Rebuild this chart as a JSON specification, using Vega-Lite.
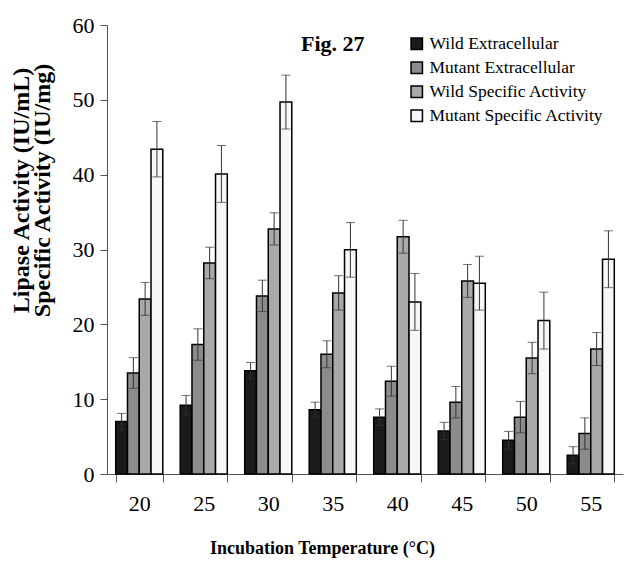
{
  "$schema": "https://vega.github.io/schema/vega-lite/v6.json",
  "autosize": "none",
  "width": 516,
  "height": 449,
  "padding": {"left": 107, "top": 25, "right": 1, "bottom": 103},
  "background": "white",
  "config": {
    "view": {"stroke": null},
    "font": "Liberation Serif",
    "axis": {"grid": false, "domainColor": "#555", "tickColor": "#555", "labelColor": "black", "titleColor": "black", "labelFont": "Liberation Serif", "titleFont": "Liberation Serif"}
  },
  "data": {
    "values": [
      {"temp": 20, "series": "Wild Extracellular", "value": 7.0, "lo": 5.9, "hi": 8.1},
      {"temp": 20, "series": "Mutant Extracellular", "value": 13.5, "lo": 11.45, "hi": 15.55},
      {"temp": 20, "series": "Wild Specific Activity", "value": 23.4, "lo": 21.2, "hi": 25.6},
      {"temp": 20, "series": "Mutant Specific Activity", "value": 43.4, "lo": 39.7, "hi": 47.1},
      {"temp": 25, "series": "Wild Extracellular", "value": 9.2, "lo": 7.9, "hi": 10.5},
      {"temp": 25, "series": "Mutant Extracellular", "value": 17.3, "lo": 15.2, "hi": 19.4},
      {"temp": 25, "series": "Wild Specific Activity", "value": 28.2, "lo": 26.1, "hi": 30.3},
      {"temp": 25, "series": "Mutant Specific Activity", "value": 40.1, "lo": 36.3, "hi": 43.9},
      {"temp": 30, "series": "Wild Extracellular", "value": 13.8, "lo": 12.7, "hi": 14.9},
      {"temp": 30, "series": "Mutant Extracellular", "value": 23.8, "lo": 21.7, "hi": 25.9},
      {"temp": 30, "series": "Wild Specific Activity", "value": 32.75, "lo": 30.6, "hi": 34.9},
      {"temp": 30, "series": "Mutant Specific Activity", "value": 49.7, "lo": 46.1, "hi": 53.3},
      {"temp": 35, "series": "Wild Extracellular", "value": 8.6, "lo": 7.6, "hi": 9.6},
      {"temp": 35, "series": "Mutant Extracellular", "value": 16.0, "lo": 14.2, "hi": 17.8},
      {"temp": 35, "series": "Wild Specific Activity", "value": 24.2, "lo": 21.9, "hi": 26.5},
      {"temp": 35, "series": "Mutant Specific Activity", "value": 29.95, "lo": 26.3, "hi": 33.6},
      {"temp": 40, "series": "Wild Extracellular", "value": 7.6, "lo": 6.5, "hi": 8.7},
      {"temp": 40, "series": "Mutant Extracellular", "value": 12.4, "lo": 10.4, "hi": 14.4},
      {"temp": 40, "series": "Wild Specific Activity", "value": 31.7, "lo": 29.5, "hi": 33.9},
      {"temp": 40, "series": "Mutant Specific Activity", "value": 23.0, "lo": 19.2, "hi": 26.8},
      {"temp": 45, "series": "Wild Extracellular", "value": 5.75, "lo": 4.6, "hi": 6.9},
      {"temp": 45, "series": "Mutant Extracellular", "value": 9.6, "lo": 7.5, "hi": 11.7},
      {"temp": 45, "series": "Wild Specific Activity", "value": 25.8, "lo": 23.6, "hi": 28.0},
      {"temp": 45, "series": "Mutant Specific Activity", "value": 25.5, "lo": 21.9, "hi": 29.1},
      {"temp": 50, "series": "Wild Extracellular", "value": 4.5, "lo": 3.3, "hi": 5.7},
      {"temp": 50, "series": "Mutant Extracellular", "value": 7.6, "lo": 5.5, "hi": 9.7},
      {"temp": 50, "series": "Wild Specific Activity", "value": 15.5, "lo": 13.4, "hi": 17.6},
      {"temp": 50, "series": "Mutant Specific Activity", "value": 20.5, "lo": 16.7, "hi": 24.3},
      {"temp": 55, "series": "Wild Extracellular", "value": 2.5, "lo": 1.35, "hi": 3.65},
      {"temp": 55, "series": "Mutant Extracellular", "value": 5.4, "lo": 3.3, "hi": 7.5},
      {"temp": 55, "series": "Wild Specific Activity", "value": 16.7, "lo": 14.5, "hi": 18.9},
      {"temp": 55, "series": "Mutant Specific Activity", "value": 28.7, "lo": 24.9, "hi": 32.5}
    ]
  },
  "encoding": {
    "x": {
      "field": "temp", "type": "ordinal",
      "scale": {"paddingInner": 0.27, "paddingOuter": 0.135},
      "axis": {
        "title": "Incubation Temperature (°C)",
        "labelAngle": 0, "labelFontSize": 22, "labelPadding": 11,
        "tickBand": "extent", "tickSize": 8, "domainWidth": 1,
        "titleFontSize": 18, "titleFontWeight": "bold",
        "titleX": 215, "titleY": 74, "titleBaseline": "middle", "titleAlign": "center"
      }
    },
    "xOffset": {
      "field": "series", "type": "nominal",
      "scale": {"domain": ["Wild Extracellular", "Mutant Extracellular", "Wild Specific Activity", "Mutant Specific Activity"], "paddingInner": 0, "paddingOuter": 0}
    }
  },
  "layer": [
    {
      "mark": {"type": "bar", "stroke": "black", "strokeWidth": 1.5},
      "encoding": {
        "y": {
          "field": "value", "type": "quantitative",
          "scale": {"domain": [0, 60], "nice": false},
          "axis": {
            "values": [0, 10, 20, 30, 40, 50, 60],
            "title": ["Lipase Activity (IU/mL)", "Specific Activity (IU/mg)"],
            "titleFontSize": 24, "titleFontWeight": "bold", "titleLineHeight": 21,
            "titleX": -86, "titleY": 165, "titleAngle": -90, "titleBaseline": "middle", "titleAlign": "center",
            "labelFontSize": 22, "labelPadding": 6, "tickSize": 7
          }
        },
        "color": {
          "field": "series", "type": "nominal",
          "scale": {
            "domain": ["Wild Extracellular", "Mutant Extracellular", "Wild Specific Activity", "Mutant Specific Activity"],
            "range": ["#1a1a1a", "#8c8c8c", "#a9a9a9", "#f7f7f7"]
          },
          "legend": {
            "title": null, "orient": "none", "legendX": 301, "legendY": 10,
            "symbolType": "square", "symbolSize": 130, "symbolStrokeColor": "black", "symbolStrokeWidth": 1.5,
            "labelFontSize": 17.5, "labelFont": "Liberation Serif", "labelColor": "black", "labelOffset": 4, "rowPadding": 5, "labelLimit": 0
          }
        }
      }
    },
    {
      "mark": {"type": "rule", "color": "#333", "strokeWidth": 1},
      "encoding": {
        "y": {"field": "lo", "type": "quantitative"},
        "y2": {"field": "hi"}
      }
    },
    {
      "mark": {"type": "tick", "color": "#333", "thickness": 1, "size": 9, "orient": "horizontal"},
      "encoding": {"y": {"field": "hi", "type": "quantitative"}}
    },
    {
      "mark": {"type": "tick", "color": "#333", "thickness": 1, "size": 9, "orient": "horizontal"},
      "encoding": {"y": {"field": "lo", "type": "quantitative"}}
    },
    {
      "data": {"values": [{"label": "Fig. 27"}]},
      "mark": {"type": "text", "fontSize": 22, "fontWeight": "bold", "font": "Liberation Serif", "color": "black", "baseline": "middle", "align": "center"},
      "encoding": {
        "x": {"datum": 35, "type": "ordinal"},
        "xOffset": null,
        "y": {"datum": 57.4, "type": "quantitative"},
        "text": {"field": "label"}
      }
    }
  ]
}
